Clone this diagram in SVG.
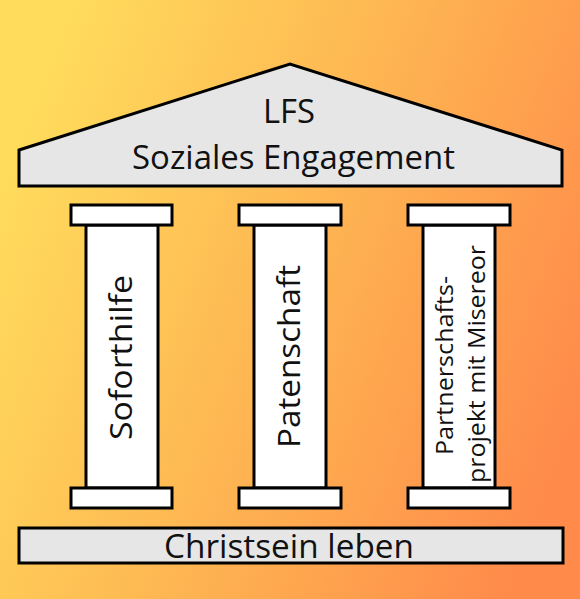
<svg xmlns="http://www.w3.org/2000/svg" width="580" height="599" viewBox="0 0 580 599">
<defs>
<linearGradient id="bg" x1="0" y1="0.3" x2="1" y2="0.7">
<stop offset="0" stop-color="#FFDC5C"/>
<stop offset="0.5" stop-color="#FEB552"/>
<stop offset="1" stop-color="#FF8A4A"/>
</linearGradient>
</defs>
<style>
.edge{stroke:#000;stroke-width:3;stroke-linejoin:miter}
.grey{fill:#E6E6E6}
.white{fill:#FFFFFF}
.t{font-family:"Open Sans","Noto Sans",sans-serif;fill:#111;text-anchor:middle}
</style>
<rect x="0" y="0" width="580" height="599" fill="url(#bg)"/>
<g id="roof">
<polygon class="edge grey" points="19,150 290,64 562,150 562,186 19,186"/>
<text class="t" x="289" y="123" font-size="32" textLength="52" lengthAdjust="spacingAndGlyphs">LFS</text>
<text class="t" x="293.5" y="169" font-size="32" textLength="323" lengthAdjust="spacingAndGlyphs">Soziales Engagement</text>
</g>
<g id="pillar1">
<rect class="edge white" x="86" y="225" width="72" height="263"/>
<rect class="edge white" x="71" y="205" width="101" height="20"/>
<rect class="edge white" x="71" y="488" width="101" height="20"/>
<text class="t" font-size="31" textLength="165" lengthAdjust="spacingAndGlyphs" transform="translate(132,357.5) rotate(-90)">Soforthilfe</text>
</g>
<g id="pillar2">
<rect class="edge white" x="254" y="225" width="72" height="263"/>
<rect class="edge white" x="239" y="205" width="102" height="20"/>
<rect class="edge white" x="239" y="488" width="102" height="20"/>
<text class="t" font-size="31" textLength="183" lengthAdjust="spacingAndGlyphs" transform="translate(300,356.5) rotate(-90)">Patenschaft</text>
</g>
<g id="pillar3">
<rect class="edge white" x="423" y="225" width="72" height="263"/>
<rect class="edge white" x="408" y="205" width="102" height="20"/>
<rect class="edge white" x="408" y="488" width="102" height="20"/>
<text class="t" font-size="24" textLength="179" lengthAdjust="spacingAndGlyphs" transform="translate(453,365.5) rotate(-90)">Partnerschafts-</text>
<text class="t" font-size="24" textLength="238" lengthAdjust="spacingAndGlyphs" transform="translate(485,364) rotate(-90)">projekt mit Misereor</text>
</g>
<g id="base">
<rect class="edge grey" x="19" y="528" width="544" height="35"/>
<text class="t" x="289" y="558" font-size="32" textLength="250" lengthAdjust="spacingAndGlyphs">Christsein leben</text>
</g>
<g id="connectors"></g>
</svg>
